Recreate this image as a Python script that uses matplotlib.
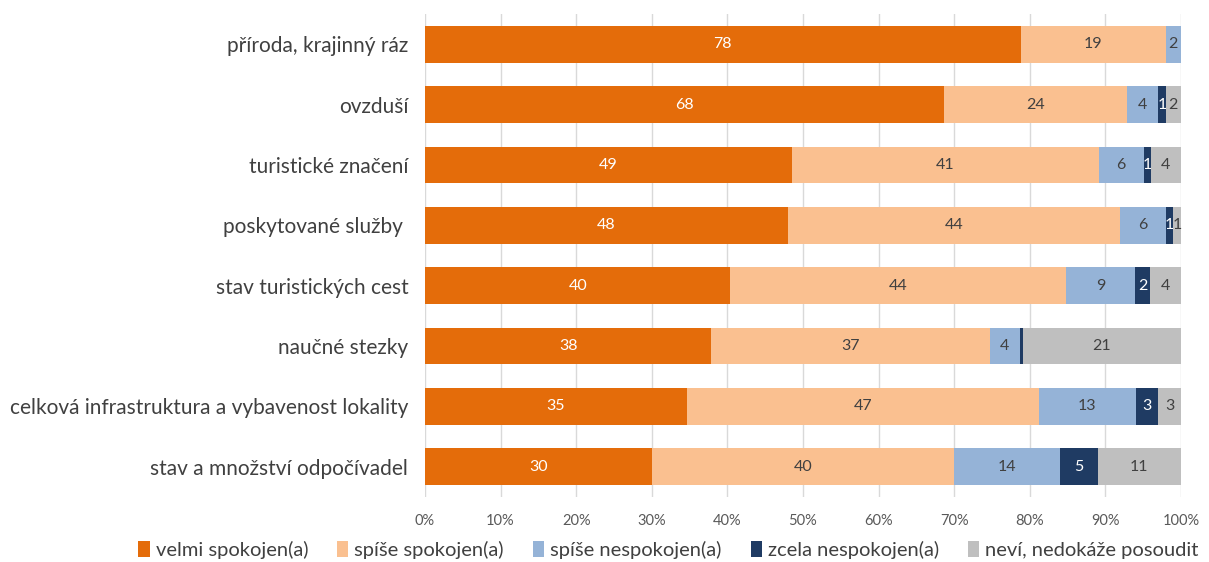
import matplotlib.pyplot as plt
import numpy as np

plt.rcParams['font.family'] = ['Lato', 'DejaVu Sans']

categories = ["příroda, krajinný ráz", "ovzduší", "turistické značení",
              "poskytované služby ", "stav turistických cest", "naučné stezky",
              "celková infrastruktura a vybavenost lokality",
              "stav a množství odpočívadel"]
series = ["velmi spokojen(a)", "spíše spokojen(a)", "spíše nespokojen(a)",
          "zcela nespokojen(a)", "neví, nedokáže posoudit"]
velmi = [78, 68, 49, 48, 40, 38, 35, 30]
spise = [19, 24, 41, 44, 44, 37, 47, 40]
spise_ne = [2, 4, 6, 6, 9, 4, 13, 14]
zcela_ne = [0, 1, 1, 1, 2, 0.4, 3, 5]
nevi = [0, 2, 4, 1, 4, 21, 3, 11]
ticks = ["0%", "10%", "20%", "30%", "40%", "50%", "60%", "70%", "80%", "90%", "100%"]

colors = ["#E46C0A", "#FAC090", "#95B3D7", "#1F3B63", "#BFBFBF"]
label_colors = ["white", "#404040", "#404040", "white", "#404040"]

data = np.array([velmi, spise, spise_ne, zcela_ne, nevi], dtype=float)
shares = data / data.sum(axis=0) * 100

fig = plt.figure(figsize=(12.09, 5.62), dpi=100)
ax = fig.add_axes([0.3515, 0.1157, 0.6253, 0.8593])

y = np.arange(len(categories))
left = np.zeros(len(categories))
for i, name in enumerate(series):
    bars = ax.barh(y, shares[i], left=left, height=0.61, color=colors[i],
                   label=name, zorder=3)
    labels = [f"{v:g}" if v >= 1 else "" for v in data[i]]
    ax.bar_label(bars, labels=labels, label_type='center', color=label_colors[i],
                 fontsize=11.5)
    left += shares[i]

ax.set_xlim(0, 100)
ax.set_ylim(len(categories) - 0.5, -0.5)
ax.set_xticks(np.arange(0, 101, 10), ticks)
ax.set_yticks(y, categories)
ax.tick_params(axis='x', length=0, labelsize=10.5, labelcolor="#595959", pad=12)
ax.tick_params(axis='y', length=0, labelsize=15, labelcolor="#404040", pad=12)
ax.grid(axis='x', color="#D9D9D9", linewidth=1, zorder=0)
for s in ax.spines.values():
    s.set_visible(False)

fig.legend(loc='lower center', bbox_to_anchor=(0.553, -0.027), ncol=5,
           frameon=False, fontsize=14.5, handlelength=0.55, handleheight=0.8,
           handletextpad=0.3, columnspacing=1.45, labelcolor="#404040")

fig.savefig("out.png", dpi=100)
